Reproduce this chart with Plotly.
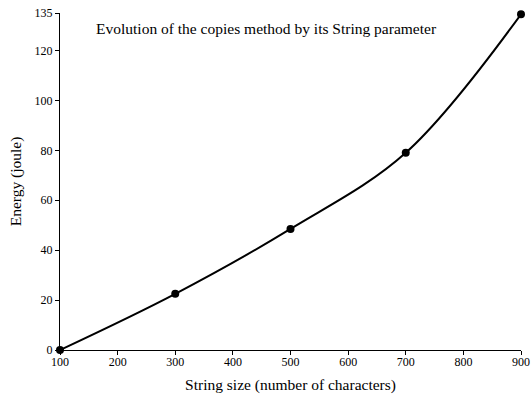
import plotly.graph_objects as go

# 数据
string_size = [100, 300, 500, 700, 900]
energy = [0, 22.5, 48.5, 79, 134.5]
x_ticks = [100, 200, 300, 400, 500, 600, 700, 800, 900]
y_ticks = [0, 20, 40, 60, 80, 100, 120, 135]

FONT = "Liberation Serif, Times New Roman, serif"

fig = go.Figure(go.Scatter(
    x=string_size, y=energy,
    mode="lines+markers",
    line=dict(color="black", width=2, shape="spline", smoothing=1),
    marker=dict(color="black", size=8),
    cliponaxis=False,
    showlegend=False,
))

fig.add_annotation(
    text="Evolution of the copies method by its String parameter",
    xref="paper", yref="paper", x=0.073, y=0.955,
    xanchor="left", yanchor="middle", showarrow=False,
    font=dict(size=15.5, color="black", family=FONT),
)

axis_style = dict(
    showline=True, linecolor="black", linewidth=1,
    ticks="outside", ticklen=4, tickcolor="black", tickwidth=1,
    showgrid=False, zeroline=False, automargin=False,
    ticklabeloverflow="allow",
    tickfont=dict(size=12, color="black", family=FONT),
)

fig.update_layout(
    width=532, height=403,
    margin=dict(l=60, r=11, t=13, b=53),
    paper_bgcolor="white", plot_bgcolor="white",
    font=dict(family=FONT, color="black"),
    xaxis=dict(range=[100, 900], tickvals=x_ticks, ticklabelstandoff=-3,
               title=dict(text="String size (number of characters)", font=dict(size=15.5), standoff=10),
               **axis_style),
    yaxis=dict(range=[0, 135], tickvals=y_ticks,
               title=dict(text="Energy (joule)", font=dict(size=15.5), standoff=9),
               **axis_style),
)

# 去掉页面 body 的默认边距，让图从左上角开始
fig.write_html("out.html", config={"displayModeBar": False},
               post_script="document.body.style.margin='0';")
